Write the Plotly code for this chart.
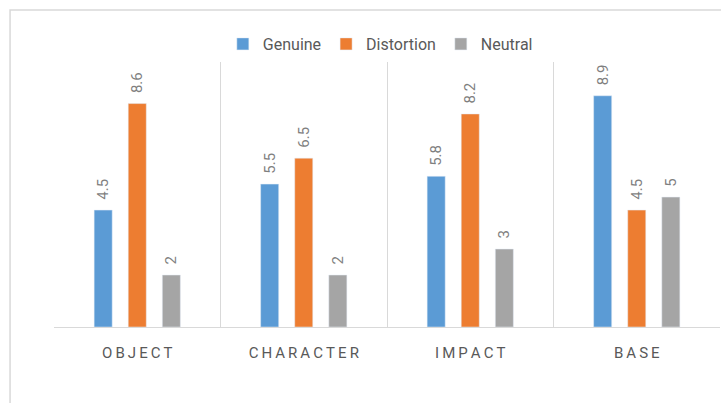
import plotly.graph_objects as go

categories = ["OBJECT", "CHARACTER", "IMPACT", "BASE"]
tick_labels = ["\u2009".join(c) for c in categories]
genuine = [4.5, 5.5, 5.8, 8.9]
distortion = [8.6, 6.5, 8.2, 4.5]
neutral = [2, 2, 3, 5]

series = [("Genuine", genuine, "#5b9bd5"),
          ("Distortion", distortion, "#ed7d31"),
          ("Neutral", neutral, "#a5a5a5")]

FONT = "Roboto, Arial, sans-serif"
PAD = "\u00a0\u00a0"

fig = go.Figure()
for name, vals, col in series:
    fig.add_trace(go.Bar(
        x=categories, y=vals, name=name, marker_color=col,
        text=[PAD + f"{v:g}" for v in vals], textposition="outside",
        textangle=-90, cliponaxis=False, constraintext="none",
        textfont=dict(family=FONT, size=15, color="#7f7f7f"),
    ))

fig.update_layout(
    width=721, height=403,
    margin=dict(l=54, r=1, t=62, b=76),
    paper_bgcolor="white", plot_bgcolor="white",
    barmode="group", bargap=0.386, bargroupgap=0.47,
    font=dict(family=FONT, color="#595959"),
    legend=dict(orientation="h", x=0.49, xanchor="center", y=1.068, yanchor="middle",
                font=dict(family=FONT, size=16, color="#595959"),
                itemwidth=30, traceorder="normal"),
    xaxis=dict(tickmode="array", tickvals=categories, ticktext=tick_labels,
               tickson="boundaries", showgrid=True, gridcolor="#d9d9d9", gridwidth=1,
               showline=True, linecolor="#d9d9d9", ticks="", ticklabelstandoff=12,
               tickfont=dict(family=FONT, size=15, color="#595959"),
               range=[-0.5, 3.5], fixedrange=True),
    yaxis=dict(range=[0, 10.2], visible=False, showgrid=False, zeroline=False),
    shapes=[dict(type="rect", xref="paper", yref="paper",
                 x0=-0.066, x1=1.2, y0=-0.6, y1=1.196,
                 line=dict(color="#d9d9d9", width=1.5), layer="below")],
)

fig.write_html("out.html")
